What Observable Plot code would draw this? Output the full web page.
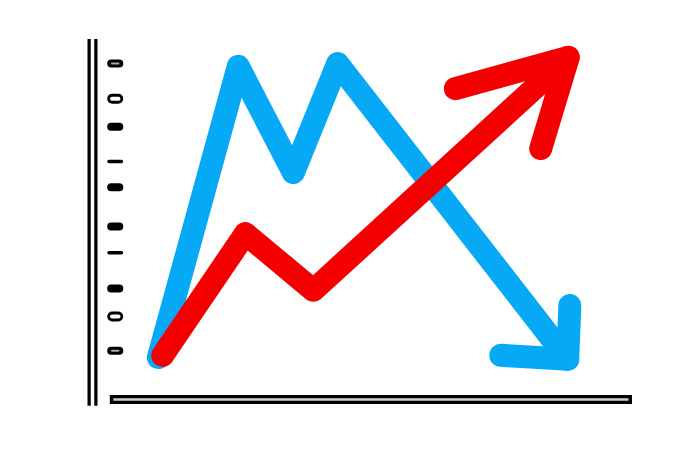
<!DOCTYPE html>
<html>
<head>
<meta charset="utf-8">
<script src="https://cdn.jsdelivr.net/npm/d3@7"></script>
<script src="https://cdn.jsdelivr.net/npm/@observablehq/plot@0.6"></script>
<style>
  html, body { margin: 0; padding: 0; background: #ffffff; }
</style>
</head>
<body>
<div id="chart"></div>
<script>
// Blue series (rises, peaks twice, falls) – [x, y]
const blueSeries = [[12.2, 11.7], [27.0, 92.8], [37.2, 63.2], [45.4, 93.6], [88.0, 11.2]];
const blueHead = [[88.4, 26.2], [88.0, 11.2], [75.6, 12.3]];
// Red series (rises overall) – [x, y]
const redSeries = [[13.0, 12.3], [28.3, 46.2], [40.9, 30.4], [88.1, 95.3]];
const redHead = [[67.2, 86.6], [88.1, 95.3], [83.0, 69.9]];
// Y-axis tick marks: value and kind
const tickValues = [93.6, 83.8, 76.0, 66.3, 59.1, 48.2, 40.9, 30.9, 23.1, 13.6];
const tickKinds = ["ring", "hollow", "solid", "thin", "solid", "solid", "thin", "solid", "hollow", "ring"];

const ticks = tickValues.map((v, i) => ({y: v, kind: tickKinds[i]}));
const widthOf = {ring: 8, hollow: 10, solid: 8, thin: 3.5};
const innerOf = {ring: 2, hollow: 4};
const padOf = {ring: 0.75, hollow: 0.95, solid: 0.75, thin: 0.35}; // half cap in x units

const chart = Plot.plot({
  width: 700,
  height: 450,
  margin: 0,
  x: {domain: [0, 100], range: [92, 632], axis: null},
  y: {domain: [0, 100], range: [399, 40], axis: null},
  style: {background: "#ffffff"},
  marks: [
    // vertical axis (outlined bar)
    Plot.ruleX([0], {y1: -1.9, y2: 100.3, stroke: "#000", strokeWidth: 10}),
    Plot.ruleX([0], {y1: -1.9, y2: 100.3, stroke: "#fff", strokeWidth: 3.5, insetTop: 3.5, insetBottom: 3.5}),
    // horizontal axis (outlined bar)
    Plot.ruleY([0], {x1: 3.3, x2: 100, stroke: "#000", strokeWidth: 9}),
    Plot.ruleY([0], {x1: 3.3, x2: 100, stroke: "#d0d0d0", strokeWidth: 2.5, insetLeft: 3.5, insetRight: 3.5}),
    // tick marks
    Plot.ruleY(ticks, {y: "y", x1: d => 2.8 + padOf[d.kind], x2: d => 5.8 - padOf[d.kind], stroke: "#000",
      strokeWidth: d => widthOf[d.kind], strokeLinecap: "round"}),
    Plot.ruleY(ticks.filter(d => innerOf[d.kind]), {y: "y", x1: 3.7, x2: 4.9,
      stroke: d => d.kind === "ring" ? "#aaa" : "#fff",
      strokeWidth: d => innerOf[d.kind], strokeLinecap: "round"}),
    // blue line and arrowhead
    Plot.line(blueSeries, {x: d => d[0], y: d => d[1], stroke: "#05a9f5", strokeWidth: 23,
      strokeLinecap: "round", strokeLinejoin: "round"}),
    Plot.line(blueHead, {x: d => d[0], y: d => d[1], stroke: "#05a9f5", strokeWidth: 23,
      strokeLinecap: "round", strokeLinejoin: "round"}),
    // red line and arrowhead
    Plot.line(redSeries, {x: d => d[0], y: d => d[1], stroke: "#f50000", strokeWidth: 23,
      strokeLinecap: "round", strokeLinejoin: "round"}),
    Plot.line(redHead, {x: d => d[0], y: d => d[1], stroke: "#f50000", strokeWidth: 23,
      strokeLinecap: "round", strokeLinejoin: "round"})
  ]
});
document.getElementById("chart").appendChild(chart);
</script>
</body>
</html>
